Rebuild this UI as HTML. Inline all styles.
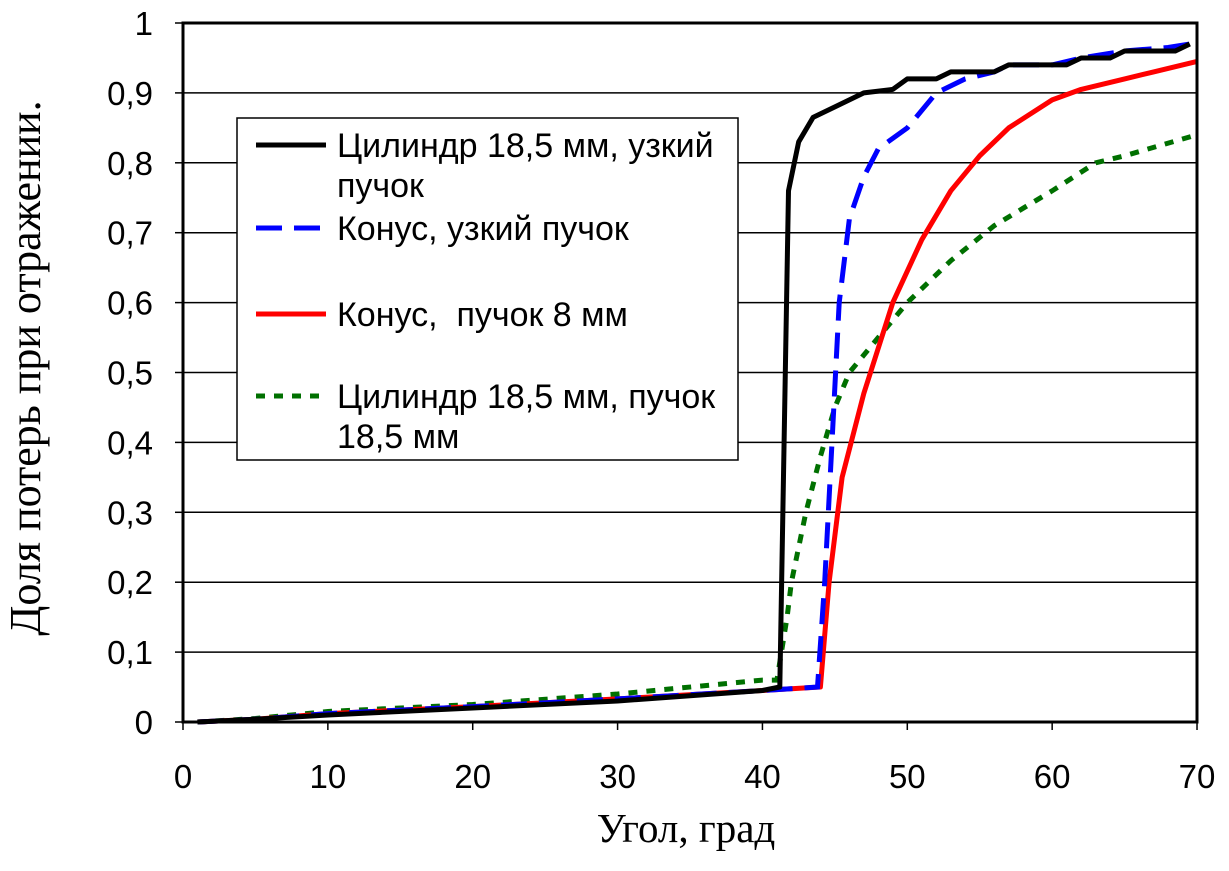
<!DOCTYPE html>
<html><head><meta charset="utf-8">
<style>
html,body{margin:0;padding:0;background:#fff;}
svg{display:block;}
.t{font-family:"Liberation Sans",sans-serif;font-size:33px;fill:#000;}
.l{font-family:"Liberation Sans",sans-serif;font-size:34px;fill:#000;}
.s{font-family:"Liberation Serif",serif;font-size:41px;fill:#000;}
.sy{font-family:"Liberation Serif",serif;font-size:44px;fill:#000;}
</style></head>
<body>
<svg id="c" width="1229" height="871" xmlns="http://www.w3.org/2000/svg">
<rect width="1229" height="871" fill="#fff"/>
<g id="grid"></g>
<g id="series"></g>
<rect x="183" y="23" width="1014" height="699" fill="none" stroke="#000" stroke-width="3"/>
<g id="ticks"></g>
<text class="s" x="686" y="842" text-anchor="middle">Угол, град</text>
<text class="sy" transform="translate(40,368) rotate(-90)" text-anchor="middle">Доля потерь при отражении.</text>
<rect x="237" y="118" width="501" height="342" fill="#fff" stroke="#000" stroke-width="1.5"/>
<line x1="256" y1="145" x2="326" y2="145" stroke="#000" stroke-width="5"/>
<text class="l" x="337" y="157">Цилиндр 18,5 мм, узкий</text>
<text class="l" x="337" y="197">пучок</text>
<line x1="256" y1="228" x2="326" y2="228" stroke="#0000ff" stroke-width="5" stroke-dasharray="26,12"/>
<text class="l" x="337" y="240">Конус, узкий пучок</text>
<line x1="256" y1="314" x2="326" y2="314" stroke="#ff0000" stroke-width="5"/>
<text class="l" x="337" y="326" xml:space="preserve">Конус,  пучок 8 мм</text>
<line x1="256" y1="396" x2="326" y2="396" stroke="#007000" stroke-width="5" stroke-dasharray="9,9"/>
<text class="l" x="337" y="408">Цилиндр 18,5 мм, пучок</text>
<text class="l" x="337" y="448">18,5 мм</text>
</svg>
<script>
var NS="http://www.w3.org/2000/svg";
function X(v){return 183+14.486*v;} function Y(f){return 722-699*f;}
function el(p,t,a){var e=document.createElementNS(NS,t);for(var k in a)e.setAttribute(k,a[k]);p.appendChild(e);return e;}
var g=document.getElementById('grid'),tk=document.getElementById('ticks'),s=document.getElementById('series');
for(var i=1;i<10;i++){el(g,'line',{x1:183,x2:1197,y1:Y(i/10),y2:Y(i/10),stroke:'#000','stroke-width':1.5});}
for(var i=0;i<=10;i++){var y=Y(i/10);el(tk,'line',{x1:175,x2:183,y1:y,y2:y,stroke:'#000','stroke-width':1.5});
 var t=el(tk,'text',{x:153,y:y+12,'text-anchor':'end',class:'t'});t.textContent=i==0?'0':i==10?'1':'0,'+i;}
for(var v=0;v<=70;v+=10){var x=X(v);el(tk,'line',{x1:x,x2:x,y1:722,y2:730,stroke:'#000','stroke-width':1.5});
 var t=el(tk,'text',{x:x,y:788,'text-anchor':'middle',class:'t'});t.textContent=v;}
function P(d){return d.map(function(p){return X(p[0]).toFixed(1)+','+Y(p[1]).toFixed(1);}).join(' ');}
var green=[[1,0],[5,0.005],[10,0.015],[20,0.025],[30,0.04],[40,0.06],[41,0.06],[41.7,0.15],[42,0.2],[43,0.3],[44,0.38],[45,0.45],[46,0.5],[48,0.55],[50,0.6],[53,0.66],[56,0.71],[58,0.735],[60,0.76],[63,0.8],[65,0.81],[70,0.84]];
var red=[[1,0],[5,0.004],[10,0.012],[20,0.022],[30,0.033],[40,0.045],[44,0.05],[44.6,0.2],[45.5,0.35],[47,0.47],[49,0.6],[51,0.69],[53,0.76],[55,0.81],[57,0.85],[60,0.89],[62,0.905],[65,0.92],[67,0.93],[70,0.945]];
var blue=[[1,0],[5,0.004],[10,0.012],[20,0.022],[30,0.033],[40,0.045],[43.8,0.05],[44.3,0.2],[44.8,0.4],[45.3,0.6],[46,0.72],[47,0.78],[48,0.82],[50,0.85],[52,0.9],[54,0.92],[56,0.93],[57,0.94],[60,0.94],[62,0.95],[65,0.96],[68,0.965],[69.5,0.97]];
var black=[[1,0],[5,0.004],[10,0.01],[20,0.02],[30,0.03],[40,0.045],[41.2,0.05],[41.8,0.76],[42.5,0.83],[43.5,0.865],[45,0.88],[47,0.9],[49,0.905],[50,0.92],[52,0.92],[53,0.93],[56,0.93],[57,0.94],[61,0.94],[62,0.95],[64,0.95],[65,0.96],[68.5,0.96],[69.5,0.97]];
el(s,'polyline',{points:P(green),fill:'none',stroke:'#007000','stroke-width':5,'stroke-dasharray':'9,9'});
el(s,'polyline',{points:P(red),fill:'none',stroke:'#ff0000','stroke-width':5,'stroke-linejoin':'round'});
el(s,'polyline',{points:P(blue),fill:'none',stroke:'#0000ff','stroke-width':5,'stroke-dasharray':'26,12'});
el(s,'polyline',{points:P(black),fill:'none',stroke:'#000','stroke-width':5,'stroke-linejoin':'round'});
</script>
</body></html>
